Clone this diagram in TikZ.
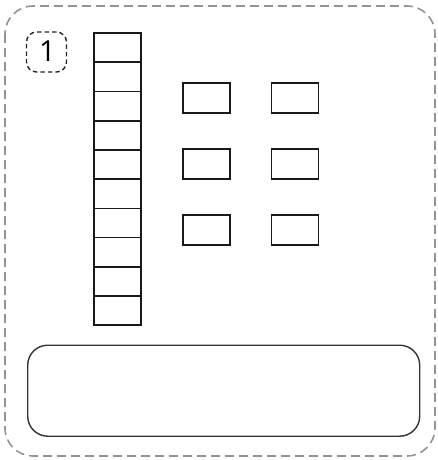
\documentclass[tikz,border=0pt]{standalone}
\usepackage{fontspec}
\setmainfont{Open Sans}
\begin{document}
\begin{tikzpicture}[x=1pt,y=-1pt,
  outerbox/.style={draw=gray!85, line width=1.6pt, dash pattern=on 9pt off 5pt, rounded corners=28pt},
  numbox/.style={draw=black!85, line width=1.4pt, dash pattern=on 4.5pt off 3pt, rounded corners=10pt, minimum width=40pt, minimum height=40pt, inner sep=0pt, font=\fontsize{29}{30}\selectfont},
  cell/.style={draw=black!90, line width=1.7pt, minimum width=47pt, minimum height=29.2pt, inner sep=0pt, anchor=north west},
  smallbox/.style={draw=black!90, line width=1.7pt, minimum width=47pt, minimum height=30pt, inner sep=0pt, anchor=north west},
  answerbox/.style={draw=black!80, line width=1.4pt, rounded corners=20pt, minimum width=392pt, minimum height=91pt, inner sep=0pt, anchor=north west}]
\useasboundingbox (0,0) rectangle (438,460);
\draw[outerbox] (5,6) rectangle (435,456);
\node[numbox] (num) at (46.5,52) {};
\node[font=\fontsize{29}{30}\selectfont, inner sep=0pt] (numtext) at (47.5,51) {1};
\foreach \i in {0,...,9} {
  \node[cell] (c\i) at (93,{32.3+29.2*\i}) {};
}
\foreach \r/\y in {0/82,1/148,2/214} {
  \node[smallbox] (a\r) at (182,\y) {};
  \node[smallbox] (b\r) at (270.5,\y) {};
}
\node[answerbox] (ans) at (27,344.5) {};
\end{tikzpicture}
\end{document}
